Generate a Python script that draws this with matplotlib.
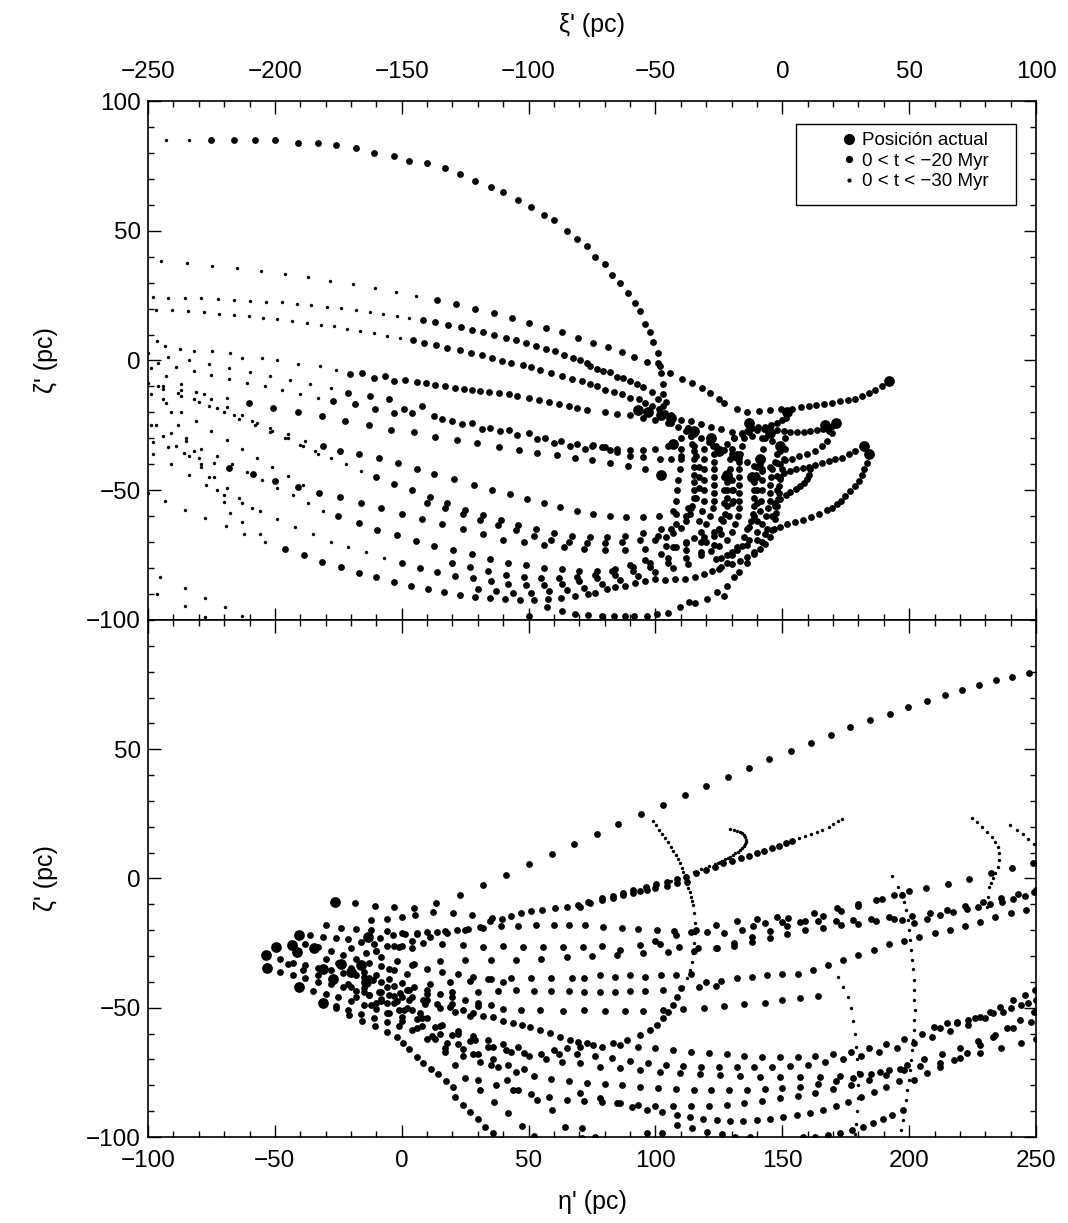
import numpy as np
import matplotlib
matplotlib.use("Agg")
import matplotlib.pyplot as plt
from matplotlib.ticker import MultipleLocator
from matplotlib.lines import Line2D
from matplotlib.patches import Rectangle

plt.rcParams['font.family'] = ['Liberation Sans', 'DejaVu Sans']

#-------------------------------------------------#
#---------- top panel: xi' vs zeta' --------------#
#-------------------------------------------------#

# current positions
top_now = [(-57, -19), (-53, -20), (-48, -21), (-44, -22), (-48, -44), (-43, -32), (-35, -27),
           (-28, -30), (-25, -35), (-13, -24), (-18, -37), (-9, -38), (-22, -44), (-12, -45),
           (-5, -28), (-1, -33), (2, -20), (17, -25), (21, -24), (32, -33), (34, -36), (42, -8)]

# orbits, 0 > t > -20 Myr
top_arc = [(-225, 85), (-216, 85), (-208, 85), (-200, 85), (-191, 84), (-183, 84), (-176, 83), (-168, 82),
           (-161, 80), (-153, 79), (-147, 77), (-140, 76), (-133, 74), (-127, 72), (-121, 69), (-115, 67),
           (-110, 65), (-104, 62), (-99, 59), (-94, 56), (-90, 54), (-85, 50), (-81, 47), (-77, 44),
           (-74, 40), (-70, 37), (-67, 33), (-64, 30), (-61, 26), (-58, 22), (-56, 19), (-54, 14),
           (-52, 11), (-51, 7), (-49, 3), (-49, -1), (-48, -5), (-47, -9), (-47, -13), (-46, -16)]
top_s2 = [(42, -8), (39.3, -9.9), (36.7, -11.4), (34, -12.7), (31.4, -13.8), (28.8, -14.7), (25.7, -15.3),
          (22.9, -15.8), (19.6, -16.4), (16.6, -16.8), (13.4, -17.2), (10.4, -17.6), (7.4, -18), (3.8, -18.6),
          (-0.4, -18.8), (-4.7, -19.2), (-9.1, -19.5), (-13.9, -19.7), (-17.9, -18.6), (-22.9, -16.3),
          (-25.1, -14.7), (-28.4, -12.4), (-31.7, -10.7), (-35.6, -8.8), (-39.5, -7.3), (-44.1, -4.7),
          (-48.1, -2.2), (-53.3, -0.7), (-58.3, 1.4), (-63.3, 3.1), (-68.7, 5.1), (-74.6, 6.9), (-80.5, 8.8),
          (-86.7, 10.9), (-93, 12.7), (-100, 14.6), (-106.7, 16.3), (-113.6, 18.2), (-121, 20),
          (-128.6, 21.7), (-136.3, 23.3)]
top_s3 = [(-44, -21), (-46.9, -17.5), (-48.9, -15), (-51.2, -12.3), (-54.8, -10.4), (-57.2, -9.2),
          (-59.9, -8.1), (-62.7, -6.9), (-65, -6.2), (-67.8, -4.6), (-70.6, -4.2), (-72.9, -3.1),
          (-75.7, -2.3), (-76.9, -0.9), (-79.6, 0.1), (-82.7, 1), (-86.2, 2.3), (-89.7, 3.5), (-93.3, 4.6),
          (-97, 5.5), (-100.9, 6.8), (-104.9, 8), (-109.1, 8.8), (-113.5, 10), (-118, 11), (-122.4, 11.9),
          (-126.8, 12.8), (-131.8, 13.8), (-136.7, 14.9), (-141.6, 15.7)]
top_s4 = [(-44, -22), (-46.1, -20.1), (-48.8, -18.8), (-51.3, -17.6), (-54, -16.3), (-56.6, -15),
          (-59.9, -14.3), (-63.2, -13.1), (-66.5, -12.2), (-69.8, -11.2), (-73, -9.9), (-75.7, -9.2),
          (-79, -8), (-83, -7), (-87, -6), (-91, -5), (-95.5, -3.5), (-99.1, -2.6), (-102.2, -1.9),
          (-106.8, -0.9), (-110.3, -0.3), (-114.6, 0.9), (-118.5, 2), (-122.9, 3), (-127.2, 4.2), (-132, 4.9),
          (-136.4, 5.8), (-141.1, 6.8), (-145.6, 7.8)]
top_s5 = [(-45, -24), (-50, -23), (-55, -22), (-60, -21), (-65, -20.5), (-70, -20), (-77, -19.1),
          (-80.9, -18.2), (-84.2, -17.6), (-88.2, -16.8), (-92.1, -16), (-96.1, -15.3), (-100, -14.3),
          (-104.6, -13.7), (-107.9, -13.1), (-111.8, -12.4), (-115.8, -12.2), (-119, -11.8), (-122.3, -11.2),
          (-125.6, -10.9), (-128.9, -10.5), (-132.8, -9.9), (-136.8, -9.6), (-140.3, -8.8), (-144, -8.3),
          (-148.6, -7.6), (-152.9, -8), (-156.5, -6), (-161.1, -6.7), (-165.7, -4.7), (-170.3, -5.4)]
top_s6a = [(-176.9, -15.7), (-168.3, -16.9), (-160.4, -18.8), (-153.2, -20.1), (-146, -20.1), (-137.4, -21.4),
           (-130.2, -23.3), (-122.3, -24), (-115.1, -25.9), (-107.9, -26.8), (-100, -28.1), (-93.5, -29.7),
           (-87.2, -31), (-80.9, -32.3), (-75, -33), (-70, -33.5), (-65, -34), (-60, -34.5), (-55, -34.5),
           (-50, -34), (-45, -33), (-43, -32)]
top_s6b = [(-171, -12.4), (-162.4, -13.7), (-155.2, -15), (-149.3, -18.8), (-142, -17.6), (-134.1, -22.7),
           (-126.3, -24.6), (-118.4, -26.5), (-111.2, -27.2), (-104.6, -28.8), (-96.7, -30.4), (-90.1, -31.7),
           (-83.6, -33), (-77.6, -34), (-74.5, -32.7), (-71.1, -33.5), (-67.8, -34.6), (-65.2, -35.4),
           (-59.9, -36.9), (-54.8, -37.3), (-48.1, -38.1), (-44, -38), (-40, -37)]
top_s7 = [(-210.4, -16.3), (-200.8, -18.2), (-190.9, -19.9), (-181.4, -21.4), (-172.3, -23.3), (-163.1, -25),
          (-154.3, -26.8), (-145.3, -27.6), (-136.8, -29.3), (-128.2, -30.7), (-120.3, -31.7), (-111.8, -33.2),
          (-103.9, -34.5), (-96.7, -35.5), (-88.8, -36.5), (-81.6, -37.4), (-75, -38.5), (-68, -39.5),
          (-61, -40.5), (-54, -42), (-48, -44)]
top_s8 = [(-217.9, -41.3), (-208.7, -43.8), (-199.8, -46.4), (-190.9, -48.7), (-182.5, -50.9), (-174.2, -52.6),
          (-166, -55), (-158, -57), (-150, -59), (-142, -61), (-134, -63), (-126, -65), (-118, -67),
          (-110, -69), (-102, -70), (-94, -71), (-86, -72), (-78, -72.5), (-70, -73), (-62, -73),
          (-54, -72.5), (-46, -71.5), (-38, -70), (-31, -68), (-25, -65), (-21, -60), (-20, -55), (-20, -50),
          (-21, -45)]
top_s9 = [(-175, -60), (-167, -62.5), (-159.8, -65.3), (-151.9, -67.3), (-144.3, -69.5), (-137.2, -71.4),
          (-129.8, -73.1), (-122.3, -74.6), (-115.1, -76.5), (-108, -78), (-101, -79), (-94, -80), (-87, -80.5),
          (-80, -81), (-73, -81), (-66, -80.5), (-59, -79.5), (-52, -78), (-45, -76), (-38, -73), (-32, -70),
          (-27, -66), (-24, -61), (-23, -55), (-23, -50), (-23, -45)]
top_s10 = [(-150, -78), (-143, -80), (-136, -81.5), (-129, -83), (-122, -84), (-115, -85), (-108, -86),
           (-101, -86.5), (-94, -86.5), (-87, -86), (-80, -85), (-73, -84), (-66, -82.5), (-59, -81),
           (-52, -79.5), (-45, -78), (-38, -76), (-32, -74), (-27, -71), (-24, -67)]
top_s11 = [(-181, -33), (-174.2, -34.9), (-167, -36), (-159.1, -37.4), (-151.5, -39.5), (-144, -41.7),
           (-137.4, -43.8), (-129.6, -45.8), (-121.7, -48.1), (-114.4, -49.9), (-107.2, -51.5), (-100.6, -53.5),
           (-94, -55), (-87.5, -56.5), (-81, -58), (-74.5, -59), (-68, -60), (-61.5, -60.5), (-55, -60.5),
           (-48.5, -60), (-42, -59), (-37, -57), (-34, -53), (-33, -49), (-33, -45), (-33, -41), (-34, -37),
           (-35, -33), (-36, -29), (-37, -26)]
top_s12 = [(-160, -45), (-153, -47.5), (-146, -50), (-139, -52.5), (-132, -55), (-125, -57.5), (-118, -59.5),
           (-111, -61.5), (-104, -63.5), (-97, -65), (-90, -66.5), (-83, -67.5), (-76, -68), (-69, -68),
           (-62, -67.5), (-55, -66.5), (-48, -65), (-42, -63), (-38, -60), (-36, -57)]
top_s13 = [(-140, -55), (-133, -57), (-126, -59), (-119, -61.5), (-112, -63.5), (-105, -65.5), (-98, -67.5),
           (-91, -69), (-84, -70), (-77, -70.5), (-70, -70.5), (-63, -70), (-56, -69), (-49, -67.5), (-44, -65)]
top_s14 = [(-130, -78), (-123, -79.5), (-116, -81), (-109, -82.5), (-102, -83.5), (-95, -84), (-88, -84),
           (-81, -83.5), (-74, -82.5), (-67, -81), (-60, -79), (-54, -77), (-48, -74.5), (-43, -72)]
top_s15 = [(-120, -88), (-113, -89), (-106, -89.5), (-99, -89.5), (-92, -89), (-85, -88.5), (-78, -87.5),
           (-71, -86), (-64, -84.5), (-57, -83), (-50, -81.5), (-43, -80), (-37, -78.5)]
top_l1 = [(-195.9, -72.7), (-188.7, -75), (-181.4, -77.6), (-173.9, -79.7), (-166.7, -81.8), (-160, -83.6),
          (-152.9, -85.3), (-146.4, -86.8), (-139.8, -88.1), (-133.2, -89.1), (-127.2, -90.3), (-121, -91),
          (-115.1, -91.7), (-109.2, -91.8), (-103.5, -92.2), (-98, -92.2), (-92.5, -91.9), (-87.2, -91.4),
          (-81.6, -90.8), (-76.4, -90.1), (-73.7, -89.7), (-69.1, -88.1), (-65.8, -87.4), (-61.9, -86.8),
          (-57.9, -85.9), (-54, -84.9), (-50, -84.2), (-46.1, -84.6), (-42.2, -84.2), (-38.2, -84.2),
          (-34.3, -83.6), (-31, -82.3), (-27.7, -81), (-25.1, -80.4), (-22, -78), (-20, -75), (-18, -72),
          (-15, -68), (-13, -64), (-11, -60), (-10, -55), (-10, -50), (-10, -45), (-9, -40)]
top_l2 = [(-100, -98.3), (-92.7, -95.1), (-86.8, -96.4), (-81.6, -97.7), (-76.4, -98.1), (-71.1, -98.6),
          (-66.5, -98.6), (-61.9, -98.6), (-58.6, -98.6), (-53.3, -98.3), (-49.4, -97.7), (-45.2, -97.3),
          (-40.2, -95.1), (-36.9, -93.2), (-34.3, -93.6), (-29.7, -91.9), (-25.7, -89.4), (-23.1, -90.7),
          (-21.8, -86.8), (-19.2, -83.6), (-17.2, -81.7), (-14, -78), (-11, -74), (-8, -70), (-6, -65),
          (-4, -60), (-3, -55), (-2, -50), (-1, -45), (-1, -40), (-1, -35)]
top_u1 = [(-37, -26), (-36, -29), (-35.5, -32), (-35, -35), (-35, -38), (-35, -41), (-35, -44), (-35, -47),
          (-35, -50), (-35, -53), (-35.5, -56), (-36.5, -59), (-38, -62), (-40, -64.5), (-43, -66.5),
          (-46, -68), (-50, -69)]
top_u2 = [(-28, -30), (-27.5, -33), (-27, -36), (-27, -39), (-27, -42), (-27, -45), (-27, -48), (-27, -51),
          (-27, -54), (-27.5, -57), (-28.5, -60), (-30, -63), (-32, -66), (-35, -68.5), (-38, -70.5), (-42, -72)]
top_u3 = [(-13, -24), (-14, -27), (-15, -30), (-16, -33), (-16.5, -36), (-17, -39), (-17, -42), (-17, -45),
          (-17, -48), (-17, -51), (-17, -54), (-17, -57), (-17.5, -60), (-18.5, -63), (-20, -66), (-22, -69),
          (-25, -71.5), (-28, -73.5), (-32, -75)]
top_u4 = [(-1, -33), (-2, -36), (-3, -39), (-4, -42), (-4.5, -45), (-5, -48), (-5, -51), (-5, -54),
          (-5.5, -57), (-6.5, -60), (-8, -63), (-10, -66), (-13, -69), (-16, -71.5), (-20, -74), (-24, -76)]
top_u5 = [(-22, -44), (-22, -47), (-22, -50), (-22, -53), (-22, -56), (-22.5, -59), (-23.5, -62), (-25, -65),
          (-27, -67.5), (-30, -70)]
top_u6 = [(-9, -38), (-10, -41), (-10.5, -44), (-11, -47), (-11, -50), (-11, -53), (-11, -56), (-11.5, -59),
          (-12.5, -62), (-14, -65)]
top_u7 = [(1, -30), (1, -34), (0.5, -38), (0, -42), (-0.8, -45.8), (-1.2, -48.5), (-1.5, -50.9), (-1.8, -53.5),
          (-2.1, -56), (-2.5, -58.6), (-2.8, -61.2), (-3.4, -65), (-4.7, -68.2), (-6.7, -70.8), (-8.7, -72.7),
          (-11.3, -74.6), (-13.9, -75.9), (-16.6, -77.2), (-20, -78.5), (-24, -79.5)]
top_u8 = [(-31, -34), (-31, -38), (-31, -42), (-31, -46), (-31, -50), (-31, -54), (-31.5, -58), (-33, -62)]
top_u9 = [(-19, -30), (-20, -34), (-20.5, -38), (-20.5, -42), (-20, -46), (-19.5, -50), (-19.5, -54)]
top_u10 = [(-40, -30), (-40, -34), (-40, -38), (-40.5, -42), (-41, -46), (-41.5, -50), (-42, -54), (-43, -58)]
top_u11 = [(-7, -30), (-7.5, -34), (-8, -38), (-8, -42), (-8, -46), (-8, -50), (-8.5, -54), (-9, -58), (-10, -62)]
top_r2a = [(21, -24), (19, -25.5), (16, -26.5), (13.7, -26.8), (11, -27.2), (8.4, -27.4), (5.8, -27.5),
           (3.2, -27.6), (0.5, -27.3), (-2.1, -26.8), (-4.7, -26.6), (-7.4, -26.5), (-10, -26.8), (-13, -27.5),
           (-16, -28.5), (-19, -30), (-22, -32), (-25, -34)]
top_r2b = [(17, -25), (18.5, -27), (19.7, -28), (17.6, -31), (15.6, -33), (13, -34.9), (9.7, -36.2), (6.4, -37),
           (3.8, -37.8), (1, -38.5), (-2, -39.5), (-5, -41), (-8, -42.5)]
top_r3a = [(32, -33), (28.8, -34.9), (26.1, -36.2), (23.5, -37.4), (20.9, -38.1), (18.3, -38.7), (15.6, -39.6),
           (13, -40.4), (10.5, -41), (8, -41.5), (5.5, -42), (3, -42.7), (0.5, -43.5), (-2, -44.5)]
top_r3b = [(34, -36), (33.4, -39.4), (32.3, -41.9), (31.4, -44.2), (30.1, -46.4), (28.5, -48.3), (26.8, -50.3),
           (24.8, -52.2), (23, -54), (21.6, -55.4), (19.5, -56.8), (17.6, -57.8), (14.3, -59.2), (11.2, -60.3),
           (8.2, -61.3), (5.1, -62.3), (1.9, -63.1), (-1, -64.2), (-4, -65.5), (-7, -67), (-10, -69), (-14, -71),
           (-18, -73), (-22, -75), (-26, -76.5)]
top_r4 = [(2, -20), (1.5, -22), (0, -23), (-2, -24), (-4.5, -25), (-7, -25.5), (-9.5, -25.5), (-12, -26)]
top_r5 = [(-3, -56), (-0.8, -53.5), (1.5, -52), (3.2, -50.8), (5.2, -49.6), (7.1, -48.5), (8.5, -47.2),
          (9.7, -45.8), (10.5, -44), (11, -42)]
top_c1 = [(-44, -24), (-41, -25.5), (-38, -27), (-35, -28.5), (-32, -30), (-29, -31.5), (-26, -33), (-23, -34.5),
          (-20, -36), (-17, -37.5), (-14, -39), (-11, -40.5)]
top_c2 = [(-40, -23), (-36, -23.5), (-32, -24.5), (-28, -25.5), (-24, -26.5), (-20, -27.5), (-16, -28),
          (-12, -29), (-8, -30), (-4, -31)]

# orbits, -20 > t > -30 Myr (only the older part shows)
top_arc_old = [(-243, 85), (-234, 85)]
top_s2_old = [(-144.3, 25), (-152.3, 26.5), (-160.7, 28), (-169.4, 29.5), (-178.1, 30.8), (-187, 32),
              (-196.2, 33.3), (-205.4, 34.3), (-215, 35.7), (-224.8, 36.5), (-234.5, 37.4), (-244.8, 38.5)]
top_s3_old = [(-147, 16.5), (-151.9, 17.3), (-157.3, 18), (-162.7, 18.8), (-168.2, 19.3), (-173.8, 20.1),
              (-179.6, 20.7), (-185.6, 21.4), (-191.4, 21.9), (-197.3, 22.4), (-203.6, 22.7), (-209.8, 23),
              (-216, 23.4), (-222.3, 23.7), (-229, 24), (-235.4, 24.1), (-242, 24.1), (-248, 24.5)]
top_s4_old = [(-150.6, 8.7), (-155.8, 9.6), (-161.1, 10.7), (-166.4, 11.3), (-171.6, 12.2), (-176.6, 13.2),
              (-182, 13.7), (-187.4, 14.5), (-193.2, 15.3), (-199.2, 15.8), (-204.5, 16.4), (-210.4, 17),
              (-216.2, 17.7), (-222.2, 18.1), (-228.1, 18.6), (-234.3, 19.1), (-240.6, 19.3), (-246.8, 19.6)]
top_s5_old = [(-176, -3.5), (-182.1, -2.2), (-190.7, -1.2), (-199.2, 0.1), (-205.1, 1), (-213, 1), (-217.6, 2.7),
              (-224.8, 3.6), (-232, 3.6), (-237.3, 4.5), (-243.2, 5.5), (-246.5, 7.4)]
top_s6a_old = [(-183, -14.5), (-190, -13), (-197, -11.5), (-204, -10), (-211, -8.5), (-218, -7), (-225, -5.5),
               (-232, -4), (-239, -2.5), (-246, -1)]
top_s6b_old = [(-178, -10.5), (-186, -9), (-194, -7.5), (-202, -6), (-210, -4.5), (-218, -3), (-226, -1.5),
               (-234, 0), (-242, 1.5), (-250, 3)]
top_s7_old = [(-219, -14.5), (-228, -13), (-237, -11.5), (-246, -10)]
top_s8_old = [(-224, -39.5), (-230, -37.5), (-236, -35.5), (-242, -33.5), (-248, -31.5)]
top_s9_old = [(-181, -58), (-187, -55), (-193, -52), (-199, -49), (-205, -46), (-211, -43), (-217, -40),
              (-223, -37), (-229, -34), (-235, -31), (-241, -28), (-247, -25)]
top_s10_old = [(-157, -76), (-164, -74), (-171, -72), (-178, -70), (-185, -67), (-192, -64), (-199, -61),
               (-206, -58), (-213, -55), (-220, -52), (-227, -48), (-234, -44), (-241, -40), (-248, -36)]
top_s11_old = [(-188, -31), (-195, -28.5), (-202, -26), (-209, -23.5), (-216, -21), (-223, -18.5), (-230, -16),
               (-237, -13.5), (-244, -11), (-250, -8.5)]
top_s12_old = [(-166, -42.5), (-172, -40), (-178, -37.5), (-184, -35), (-190, -32.5), (-196, -30), (-202, -27.5),
               (-208, -25), (-214, -22.5), (-220, -20), (-226, -17.5), (-232, -15), (-238, -12.5), (-244, -10)]
top_l1_old = [(-203.8, -69.9), (-212.3, -66.9), (-219.2, -63.7), (-227.5, -60.9), (-235.4, -57.6),
              (-243.2, -54.1), (-250, -51)]
top_f2_old = [(-206, -67), (-213, -62.4), (-217.6, -58.6), (-220.2, -54.5), (-223, -50), (-226, -45), (-229, -40),
              (-232, -35), (-235, -30), (-238, -25), (-241, -20), (-244, -15)]
top_f3_old = [(-213, -98.3), (-219.6, -95.1), (-227.5, -91.5), (-235.4, -87.8), (-245.2, -83.6)]
top_f4_old = [(-227.5, -99), (-235.4, -94.5), (-246.5, -90)]
top_f5_old = [(-249, -3), (-243, -6), (-237, -9), (-231, -12), (-225, -15), (-219, -18), (-213, -21), (-207, -24),
              (-201, -27), (-195, -30), (-189, -33), (-183, -36)]
top_f6_old = [(-249, -13), (-243, -16.5), (-237, -20), (-231, -23.5), (-225, -27), (-219, -30.5), (-213, -34),
              (-207, -37.5), (-201, -41), (-195, -44.5), (-189, -48)]
top_f7_old = [(-249, -25), (-244, -29), (-239, -33), (-234, -37), (-229, -41), (-224, -45), (-219, -49),
              (-214, -53), (-209, -57)]

top_medium = [top_arc, top_s2, top_s3, top_s4, top_s5, top_s6a, top_s6b, top_s7, top_s8, top_s9, top_s10,
              top_s11, top_s12, top_s13, top_s14, top_s15, top_l1, top_l2, top_u1, top_u2, top_u3, top_u4,
              top_u5, top_u6, top_u7, top_u8, top_u9, top_u10, top_u11, top_r2a, top_r2b, top_r3a, top_r3b,
              top_r4, top_r5, top_c1, top_c2]
top_old = [top_arc_old, top_s2_old, top_s3_old, top_s4_old, top_s5_old, top_s6a_old, top_s6b_old, top_s7_old,
           top_s8_old, top_s9_old, top_s10_old, top_s11_old, top_s12_old, top_l1_old, top_f2_old, top_f3_old,
           top_f4_old, top_f5_old, top_f6_old, top_f7_old]

#-------------------------------------------------#
#---------- bottom panel: eta' vs zeta' ----------#
#-------------------------------------------------#

bot_now = [(-26.3, -9), (-53.5, -29.6), (-49.5, -26.4), (-43.4, -25.7), (-40.4, -21.9), (-41.4, -28.3),
           (-34.6, -27), (-53, -34.7), (-40.4, -41.9), (-31.1, -48), (-31.1, -35.1), (-13.2, -22.5),
           (-24, -33), (-20, -36), (-16, -33.5), (-27, -39), (-14, -40)]

bot_b1 = [(-18.4, -9.6), (-10.5, -10.5), (-2.9, -11.2), (5, -11.4), (13.5, -9.5), (23, -6.4), (32.2, -2.6),
          (41.1, 1.4), (50.1, 5.5), (59.1, 9.4), (67.9, 13.2), (76.9, 17.1), (85.4, 21.1), (94.2, 24.8),
          (103.1, 28.5), (111.7, 32.2), (120, 35.8), (128.5, 39.3), (136.9, 42.7), (144.9, 46.1), (153.3, 49.3),
          (161.2, 52.5), (169.1, 55.4), (176.8, 58.5), (184.6, 61.2), (192.4, 63.8), (199.7, 66.3),
          (206.9, 68.7), (214, 71), (220.9, 72.9), (227.7, 74.9), (234.4, 76.8), (240.7, 78.1), (247.1, 79.5)]
bot_b2 = [(-8.6, -23.1), (-3.3, -21.9), (1.3, -21.5), (5.9, -21.2), (9.9, -20.8), (13.8, -20.6), (17.1, -20.3),
          (21.7, -19.9), (26.3, -19.7), (30.9, -18.6), (34.8, -16.5), (39.4, -15.5), (43, -14.5), (47, -13.5),
          (51, -12.7), (55.2, -12), (60.4, -11.3), (65, -10.9), (69.6, -10.3), (73.6, -9), (78.8, -7.7),
          (83.4, -6.8), (87.3, -5.7), (91.3, -4.5), (96.2, -3.2), (100.2, -2.2), (104.7, -1.5), (108.4, -0.3),
          (112.1, 0.7), (115.9, 2), (119.8, 3.3), (123.5, 4.6), (126.8, 5.9), (130.3, 6.9), (133.7, 7.8),
          (136.9, 8.7), (139.9, 9.7), (142.9, 10.8), (145.9, 11.7), (148.8, 12.7), (151.3, 13.8), (153.8, 14.6)]
bot_b2b = [(70.3, -10.9), (74.2, -9.6), (78.8, -8.4), (83.4, -7.5), (87.3, -6.5), (91.3, -5.8), (93.9, -5),
           (96.6, -4.5), (99.8, -3.6), (104.7, -2.8), (108.4, -1.9), (112.3, -1.2)]
bot_k1 = [(-48, -31), (-43, -32.5), (-38, -33.5), (-33, -34.5), (-28, -35.5), (-23, -36.5), (-18, -37.5),
          (-13, -38.5), (-8, -40), (-3, -41.5), (2, -43)]
bot_k2 = [(-48, -36), (-43, -37.5), (-38, -38.5), (-33, -40), (-28, -41), (-23, -42), (-18, -43.5), (-13, -45),
          (-8, -46.5), (-3, -48), (2, -50), (7, -52)]
bot_k3 = [(-38, -25.5), (-33, -26.5), (-28, -28), (-23, -29.5), (-18, -31), (-13, -32.5), (-8, -34), (-3, -35.5),
          (2, -37)]
bot_k4 = [(-35, -43.5), (-30, -44.5), (-25, -46), (-20, -47.5), (-15, -49), (-10, -50.5), (-5, -52), (0, -53.5)]
bot_k5 = [(-26, -49.5), (-21, -51), (-16, -52.5), (-11, -54), (-6, -55.5), (-1, -57), (4, -58.5)]
bot_k6 = [(-36, -22), (-31, -22.5), (-26, -23), (-21, -23.5), (-16, -24.5), (-11, -25.5), (-6, -26), (-1, -26.5),
          (4, -27)]
bot_k7 = [(-12, -16), (-6, -15.5), (0, -15), (5.2, -14.1), (12.5, -12.8), (20.3, -13.5), (27.6, -14.1),
          (35.5, -15.4)]
bot_k8 = [(-45, -33), (-39, -35.5), (-33, -37.5), (-27, -39.5), (-21, -41), (-15, -42.5), (-9, -44), (-3, -45.5),
          (3, -47), (9, -48.5), (15, -50), (21, -51.5), (27, -53)]
bot_k9 = [(-30, -31), (-25, -32.5), (-20, -34.5), (-15, -36), (-10, -37.5), (-5, -39), (0, -40.5), (5, -42),
          (10, -43), (15, -44.5), (20, -46), (25, -47), (30, -48), (35, -49)]
bot_k10 = [(-20, -27), (-14, -29), (-8, -30.5), (-2, -32), (4, -33.5), (10, -35), (16, -36), (22, -37), (28, -38),
           (34, -39), (40, -40)]
bot_k11 = [(-18, -46), (-12, -49), (-6, -52), (0, -55), (6, -58), (12, -61), (18, -63.5), (24, -66), (30, -68),
           (36, -70), (42, -72), (48, -73.5)]
bot_k12 = [(-8, -44), (-2, -47.5), (4, -51), (10, -54), (16, -56.5), (22, -59), (28, -61), (34, -62.5), (40, -64),
           (46, -65)]
bot_k13 = [(-30, -18), (-24, -19), (-18, -19.5), (-12, -20), (-6, -20.5), (0, -21), (6, -21.5)]
bot_d1 = [(-25.9, -50.2), (-20.7, -52.8), (-15.8, -55), (-10.5, -56.9), (-5.9, -59.3), (-2, -61.2), (0.5, -63.5),
          (3, -66.1), (6, -69), (8.5, -71.5), (11.5, -73.5), (14.4, -75.7), (17.5, -78.5), (20.3, -80.5),
          (21, -84.4), (24, -87.5), (26.9, -90.2), (30, -93), (32.8, -96), (36, -98.5), (38.7, -101)]
bot_d2 = [(8, -57), (13, -62), (17, -67), (21, -72), (24.9, -77.3), (30.9, -81.8), (36.4, -86.3), (42, -90.8),
          (47.3, -95.7), (52, -99.5)]
bot_d3 = [(15, -60), (22, -64), (28, -68), (35, -72), (41.4, -78), (46, -81.8), (53.2, -85.7), (59.1, -89.6),
          (64.4, -96), (70.9, -100.5)]
bot_h1a = [(-10, -28), (0, -26), (8.5, -25.1), (15.8, -25.3), (24, -25.7), (32.2, -26.4), (40.1, -26),
           (47.9, -26.4), (55.8, -26.4), (63.7, -26.4), (71.6, -26.4), (78.8, -26.1), (86, -27.7), (93.9, -25.7),
           (101.8, -25.4), (109.3, -26.4), (116.9, -27), (124.2, -27), (131, -26), (138, -24.5), (145, -23),
           (152, -21.5), (159, -20), (166, -19), (173, -18), (180, -17.5), (187, -16.5), (194, -15.5),
           (201, -14.5), (208, -13.5), (215, -12), (222, -10.5), (229, -9), (236, -7.5), (243, -6), (250, -4.5)]
bot_h1b = [(-10, -28), (-3, -26), (4, -24), (11, -22.5), (18, -21), (25, -20), (32, -19), (39, -18.5),
           (46, -18.2), (53, -18), (60, -18), (66, -18), (72.3, -18), (79.5, -18.6), (86.7, -19), (93.3, -19.5),
           (100.5, -19.9), (107.3, -20.2), (113.9, -20.6), (120.5, -20.8), (127.1, -21), (134.1, -19.9),
           (138.6, -18.3), (143.3, -17.3), (150, -17), (157, -16.8), (164, -16.6), (171, -16.4), (178, -16),
           (185, -15.5), (192, -15), (197, -16), (201.7, -17.3), (207, -15.8), (212.2, -14.1), (217.2, -12.8),
           (222.7, -11.9), (227.3, -10.9), (231.9, -10), (236.5, -9), (241.1, -8), (245.7, -6.8), (249, -5.1)]
bot_h1c = [(-15, -38), (-5, -35), (5, -33), (15, -32), (25, -31.5), (35, -31.5), (45, -31.5), (55, -31),
           (65, -30.5), (75, -30), (85, -29.5), (95, -29), (105, -28.5), (115, -28), (124, -27), (131, -25),
           (138, -22.5), (145, -20.5), (152, -18.5), (159, -16.5), (166, -14.5), (173, -12.5), (180, -10.5),
           (187, -8.5), (194, -6.5), (200, -5), (206.7, -3.8), (215.2, -2.1), (223.7, -0.1), (232.3, 2),
           (240.4, 3.9), (248.6, 5.9)]
bot_h1d = [(100, -24), (108, -22), (116, -20), (124, -18), (132, -16.5), (140, -15.5), (148, -15),
           (152.4, -15.4), (162.3, -13.5), (171.5, -11.5), (180, -9.9), (189.2, -7.9), (197.1, -6.4)]
bot_h2 = [(-5, -45), (3, -43), (11, -41), (19, -40), (27, -39.5), (35, -39), (43, -38.5), (51, -38.5), (59, -38.5),
          (67, -38.5), (72, -38.5), (78, -37.5), (84, -38), (90, -37.5), (96, -38), (102, -37.5), (108, -37.5),
          (114, -37), (120, -40), (126, -39.5), (132, -38.5), (138, -38), (144, -37.5), (150, -37), (156, -37),
          (162, -35.5), (168, -33.5), (174, -31.5), (180, -29.5), (186, -27.5), (192, -25.5), (198, -24),
          (204, -22.5), (210, -21), (216, -20), (222, -18.5), (228, -17), (234, -15), (240, -13.5), (246, -12)]
bot_h2b = [(-10, -48), (0, -46), (10, -44.5), (20, -44), (30, -44), (38, -43.5), (45, -43), (52, -43.5),
           (59, -43.5), (66, -43.5), (72, -43.8), (78, -43.8), (84, -43.8), (90, -43.7), (96, -43.5), (103, -43),
           (110, -42.5), (117, -42), (124, -41.5)]
bot_h3 = [(10, -47), (20, -48.5), (30, -49.5), (40, -50.5), (47, -51), (54.5, -50.9), (63.7, -51.3), (72, -51),
          (80, -51.3), (88, -51.3), (95, -51.3), (103, -51), (111, -50.5), (119, -50), (127, -49.3),
          (135, -48.7), (143, -48), (150, -47), (157, -46.3), (164, -45.5)]
bot_h4a = [(-11.2, -39.3), (-6, -42), (-0.7, -44.4), (4, -46), (8.5, -47), (14, -48.5), (19, -49.6), (24, -51),
           (28.2, -52.1), (32, -53), (36.1, -53.5), (40, -55), (44, -56), (47.5, -56.5), (50.6, -57.3),
           (54.5, -58.5), (58.5, -59.9), (62.5, -61.2), (66.3, -62.5), (69.5, -63.2), (72.9, -63.8), (79, -65),
           (86, -64.5), (93, -65), (100, -65.5), (107, -66.5), (114, -67), (121, -67.5), (128, -68), (135, -68.5),
           (142, -69), (149, -69), (156, -69), (163, -68.5), (170, -68), (177, -67), (184, -65.5), (191, -64),
           (198, -62), (205, -60), (212, -58), (219, -56), (226, -54), (233, -52), (240, -50), (247, -48)]
bot_h4b = [(-20, -42), (-13, -45), (-6, -48), (1, -51), (8, -54), (15, -57), (22, -60), (29, -62.5), (36, -65),
           (43, -67), (50, -68.5), (57, -70), (63, -71), (70.3, -71.5), (78.2, -72.8), (86, -73.4), (93.9, -74.1),
           (101.8, -74.7), (109.7, -75.4), (117.6, -75.7), (125.5, -76), (133.3, -76.4), (141.2, -76.7),
           (149.1, -76.7), (157, -76.7), (164.9, -76.7), (172.8, -76.4), (180.6, -75.7), (188.5, -74.7),
           (196.4, -73.8), (204.3, -72.5), (212.2, -71.5), (220, -69.5), (228, -67.5), (236, -65.5),
           (244, -63.5), (250, -62)]
bot_rv2 = [(-15, -44), (-8, -47.5), (-1, -51), (6, -54.5), (13, -57.5), (20, -60.5), (27, -63), (34, -65),
           (41, -66.5), (48, -67.5), (55, -68), (62, -68), (69, -68), (76, -68.5), (83, -69.5), (90, -70.5),
           (97, -71.5), (104, -72), (111, -72.5), (118, -73), (125, -73), (132, -73), (139, -73), (146, -73),
           (153, -72.5), (160, -72), (167, -71), (174, -70), (181, -68.5), (188, -67), (195, -65.5),
           (202, -63.5), (209, -61.5), (216, -59), (223, -56.5), (230, -54), (237, -51.5), (244, -49), (250, -47)]
bot_rv4 = [(10, -62), (17, -65.5), (24, -68.5), (31, -71), (38, -73), (45, -75), (52, -76.5), (59, -77.5),
           (66, -78.5), (73, -79), (80, -79.5), (87, -80), (94, -80.5), (101, -81), (108, -81.5), (115, -82),
           (122, -82), (129, -82), (136, -82), (143, -81.5), (150, -81), (157, -80.5), (164, -79.5),
           (171, -78.5), (178, -77), (185, -75.5), (192, -74), (199, -72), (206, -70), (213, -68), (220, -65.5),
           (227, -63), (234, -60.5), (241, -58), (248, -55.5)]
bot_rv5 = [(30, -78), (37, -80), (44, -82), (51, -83.5), (58, -84.5), (65, -85.5), (72, -86), (79, -86.5),
           (86, -87), (93, -87.5), (100, -88), (107, -88), (114, -88), (121, -88), (128, -87.5), (135, -87),
           (142, -86), (149, -85), (156, -84), (163, -83), (170, -81.5), (177, -80), (184, -78), (191, -76),
           (198, -74)]
bot_h5 = [(70.3, -83.1), (78.2, -85), (84.8, -87), (90.7, -88.3), (96.6, -89.6), (102.5, -90.2), (108.4, -91.5),
          (113.6, -92.4), (118.9, -93), (124.2, -93.4), (129.4, -93.7), (134.6, -93.7), (139.9, -93.4),
          (145.2, -93.1), (150.4, -92.4), (155.7, -91.5), (160.9, -90.8), (166, -89.5), (171, -88), (176, -86.5),
          (181, -84.5), (186, -82.5), (191, -80.5), (196, -78.5)]
bot_h6 = [(70.9, -96.6), (76.2, -100), (96.6, -98.5), (102.5, -98.5), (108.4, -95.4), (114.3, -96.6),
          (120.2, -98), (126.1, -98.8), (131.4, -99.9), (137.3, -100), (158.3, -100), (162.9, -99.9),
          (168.1, -99.3), (172.7, -98.4), (177.3, -97.4), (181.9, -96.1), (185.9, -94.7), (189.8, -93.2),
          (193.1, -91.6), (197.7, -89.6)]
bot_h7 = [(201.7, -77.9), (207, -75.4), (212.2, -72.8), (217.5, -70.2), (222.7, -67.6), (227.9, -64.4),
          (233.2, -61.2), (238.5, -58), (243.7, -54.7), (249, -51.5)]
bot_h7b = [(209.6, -57.3), (214.8, -56), (218.8, -55.4), (223.3, -54.7), (227.9, -53.5), (231.9, -51.5),
           (235.8, -49.6), (241.1, -47), (245.7, -45.1), (249.6, -43.1)]
bot_b4 = [(60, -66.5), (65, -65.5), (70.3, -65.1), (75.5, -64.4), (83.4, -63.8), (88.7, -62.5), (93.9, -60.5),
          (97.9, -58.6), (100.5, -56.7), (103.1, -54.1), (105.1, -51.5), (106.8, -48.9), (108.4, -45.7)]

bot_b2_old = [(156.5, 15.6), (159, 16.4), (161.3, 17.2), (163.6, 18), (165.8, 18.8), (168.2, 19.8),
              (170.1, 21.1), (172.1, 22.2), (173.4, 23)]
bot_curl_old = [(129.4, 19), (130.8, 18.9), (132, 18.5), (133.2, 18), (134, 17.5), (134.8, 16.7), (135.3, 15.9),
                (135.6, 15), (135.6, 14.2), (135.4, 13.4), (134.9, 12.6), (134.2, 11.8), (133.3, 11),
                (132.4, 10.3), (131.4, 9.7), (130.4, 9), (129.4, 8.4), (128.4, 7.9), (127.4, 7.4), (126.4, 6.9),
                (125.5, 6.4), (124.5, 6), (123.5, 5.5), (121, 4.7), (118, 3.7), (115, 2.5), (112, 1.4),
                (109, 0.3), (106, -0.8)]
bot_b4_old = [(99.1, 22.2), (100.3, 20.5), (101.5, 18.8), (102.7, 17.2), (103.9, 15.6), (105, 14), (106, 12.3),
              (107, 10.7), (108, 9.1), (108.9, 7.5), (109.7, 5.9), (110.4, 4.2), (111, 2.6), (111.6, 1),
              (112.1, -0.6), (112.6, -2.2), (113, -3.8), (113.5, -5.4), (113.9, -7), (114.4, -8.6),
              (114.9, -10.3), (115.3, -13.5), (115.6, -17.3), (115.6, -21.2), (115.3, -25.1), (114.9, -28.9),
              (114.3, -32.2), (113.6, -35.4), (112.6, -38.6), (111, -41.9)]
bot_c1_old = [(224.7, 23.3), (226.6, 21.7), (228.6, 20), (230.6, 18.1), (232.6, 16.2), (233.9, 14.2),
              (234.8, 12.3), (235.2, 9.7), (235.3, 7.2), (234.8, 4.6), (233.9, 2), (233.2, 0.1), (232.2, -1.9),
              (231.6, -3.2), (231, -7), (230.7, -11)]
bot_c2_old = [(239.8, 20.7), (242.4, 18.8), (244.8, 17.1), (247, 15.3), (249, 13.3)]
bot_v1_old = [(193.1, 1), (195.5, -3.2), (197.1, -5.7), (198, -9), (198.8, -12.2), (199.4, -16), (200, -19.9),
              (200.4, -23.7), (200.8, -27.5), (201.2, -31.4), (201.5, -35.2), (201.7, -39.2), (201.9, -43.1),
              (202, -47), (202.1, -50.9), (202, -54.8), (201.9, -58.6), (201.5, -62.5), (201.1, -66.3),
              (200.8, -70.2), (200.4, -74.1), (199.8, -78), (199.2, -81.8), (198.6, -85.7), (198, -89.6),
              (197.4, -93.5), (196.8, -97.3)]
bot_v2_old = [(172, -38), (174, -42), (176, -46), (177, -50), (178, -55), (178.5, -60), (179, -65), (179.5, -70),
              (180, -75), (180, -80), (180, -85), (179.5, -90), (179, -95), (178.5, -99)]

bot_medium = [bot_b1, bot_b2, bot_b2b, bot_k1, bot_k2, bot_k3, bot_k4, bot_k5, bot_k6, bot_k7, bot_k8, bot_k9,
              bot_k10, bot_k11, bot_k12, bot_k13, bot_d1, bot_d2, bot_d3, bot_h1a, bot_h1b, bot_h1c, bot_h1d,
              bot_h2, bot_h2b, bot_h3, bot_h4a, bot_h4b, bot_rv2, bot_rv4, bot_rv5, bot_h5, bot_h6, bot_h7,
              bot_h7b, bot_b4]
bot_old = [bot_b2_old, bot_curl_old, bot_b4_old, bot_c1_old, bot_c2_old, bot_v1_old, bot_v2_old]

legend_labels = ['Posición actual', '0 < t < −20 Myr', '0 < t < −30 Myr']

#-------------------------------------------------#
#---------------Plotting--------------------------#
#-------------------------------------------------#

S_NOW, S_MED, S_OLD = 60, 24, 6


def draw(ax, old, medium, now):
    for tr in old:
        a = np.array(tr)
        ax.scatter(a[:, 0], a[:, 1], s=S_OLD, c='k', linewidths=0)
    for tr in medium:
        a = np.array(tr)
        ax.scatter(a[:, 0], a[:, 1], s=S_MED, c='k', linewidths=0)
    a = np.array(now)
    ax.scatter(a[:, 0], a[:, 1], s=S_NOW, c='k', linewidths=0)


def style(ax):
    ax.xaxis.set_major_locator(MultipleLocator(50))
    ax.xaxis.set_minor_locator(MultipleLocator(10))
    ax.yaxis.set_major_locator(MultipleLocator(50))
    ax.yaxis.set_minor_locator(MultipleLocator(10))
    ax.tick_params(which='both', direction='in', top=True, right=True, width=1.0, labelsize=17.5)
    ax.tick_params(which='major', length=9)
    ax.tick_params(which='minor', length=4.5)
    ax.tick_params(axis='y', pad=5)
    for sp in ax.spines.values():
        sp.set_linewidth(1.2)
    ax.set_ylim(-100, 100)
    ax.set_ylabel("ζ' (pc)", fontsize=18, labelpad=20)


fig = plt.figure(figsize=(10.68, 12.23), dpi=100)
ax1 = fig.add_axes([0.1386, 0.4931, 0.8315, 0.4243])
ax2 = fig.add_axes([0.1386, 0.0703, 0.8315, 0.4228])

draw(ax1, top_old, top_medium, top_now)
style(ax1)
ax1.set_xlim(-250, 100)
ax1.xaxis.set_label_position('top')
ax1.tick_params(axis='x', labeltop=True, labelbottom=False, pad=13)
ax1.set_xlabel("ξ' (pc)", fontsize=18, labelpad=21)

# legend: entries right-aligned inside a wider box, as in the original
handles = [Line2D([], [], ls='none', marker='o', color='k', markersize=7, label=legend_labels[0]),
           Line2D([], [], ls='none', marker='o', color='k', markersize=4.2, label=legend_labels[1]),
           Line2D([], [], ls='none', marker='o', color='k', markersize=2.0, label=legend_labels[2])]
leg = ax1.legend(handles=handles, loc='upper right', bbox_to_anchor=(0.947, 0.94), fontsize=13.5,
                 frameon=False, handlelength=0.6, handletextpad=0.4, labelspacing=0.18,
                 borderpad=0, borderaxespad=0)
ax1.add_patch(Rectangle((0.7297, 0.7997), 0.2478, 0.156, transform=ax1.transAxes, fill=True,
                        facecolor='white', edgecolor='k', lw=1.0, zorder=4.5))
leg.set_zorder(5)

draw(ax2, bot_old, bot_medium, bot_now)
style(ax2)
ax2.set_xlim(-100, 250)
ax2.set_yticks([-100, -50, 0, 50])
ax2.tick_params(axis='x', labeltop=False, labelbottom=True, pad=9)
ax2.set_xlabel("η' (pc)", fontsize=18, labelpad=13)

fig.savefig('out.png', dpi=100)
